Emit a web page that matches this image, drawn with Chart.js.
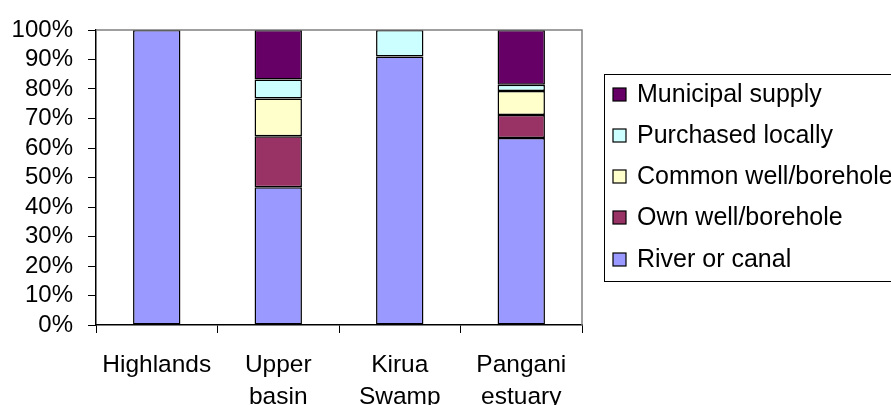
<!DOCTYPE html>
<html>
<head>
<meta charset="utf-8">
<script src="https://cdn.jsdelivr.net/npm/chart.js@4.4.1/dist/chart.umd.min.js"></script>
<style>
  html, body { margin: 0; padding: 0; background: #ffffff; }
  #wrap { width: 891px; height: 405px; position: relative; }
</style>
</head>
<body>
<div id="wrap"><canvas id="c"></canvas></div>
<script>
// ---- data ----
const categories = [["Highlands"], ["Upper", "basin"], ["Kirua", "Swamp"], ["Pangani", "estuary"]];
const riverOrCanal      = [100, 46.7, 91.0, 63.4];
const ownWell           = [0, 17.3, 0, 7.8];
const commonWell        = [0, 12.8, 0, 8.1];
const purchasedLocally  = [0, 6.4, 9.0, 2.1];
const municipalSupply   = [0, 16.8, 0, 18.6];
const yTicks = [0, 10, 20, 30, 40, 50, 60, 70, 80, 90, 100];

const FONT = "'Liberation Sans', Arial, sans-serif";

const datasets = [
  { label: "River or canal", data: riverOrCanal, backgroundColor: "#9999FF" },
  { label: "Own well/borehole", data: ownWell, backgroundColor: "#993366" },
  { label: "Common well/borehole", data: commonWell, backgroundColor: "#FFFFCC" },
  { label: "Purchased locally", data: purchasedLocally, backgroundColor: "#CCFFFF" },
  { label: "Municipal supply", data: municipalSupply, backgroundColor: "#660066" }
].map(d => Object.assign(d, {
  borderColor: "#000000",
  borderWidth: c => (c.raw ? 1.5 : 0),
  borderSkipped: false,
  categoryPercentage: 1.0,
  barPercentage: 0.39
}));

const frameAndLegend = {
  id: "frameAndLegend",
  afterDraw(chart) {
    const ctx = chart.ctx;
    const a = chart.chartArea;
    ctx.save();
    // grey plot-area frame (top and right)
    ctx.strokeStyle = "#808080";
    ctx.lineWidth = 1.5;
    ctx.beginPath();
    ctx.moveTo(a.left, a.top);
    ctx.lineTo(a.right, a.top);
    ctx.lineTo(a.right, a.bottom);
    ctx.stroke();

    // legend box
    const lx = 604, ly = 74, lw = 300, lh = 207;
    ctx.strokeStyle = "#000000";
    ctx.lineWidth = 1;
    ctx.strokeRect(lx + 0.5, ly + 0.5, lw, lh);
    const items = chart.data.datasets.slice().reverse();
    const rowY = [94, 135, 176, 217, 259];
    ctx.font = "25px " + FONT;
    ctx.textBaseline = "middle";
    ctx.textAlign = "left";
    items.forEach((ds, i) => {
      const y = rowY[i];
      ctx.fillStyle = ds.backgroundColor;
      ctx.fillRect(613, y - 6, 13, 13);
      ctx.strokeStyle = "#000000";
      ctx.lineWidth = 1.2;
      ctx.strokeRect(613, y - 6, 13, 13);
      ctx.fillStyle = "#000000";
      ctx.fillText(ds.label, 637, y + 1);
    });
    ctx.restore();
  }
};

new Chart(document.getElementById("c"), {
  type: "bar",
  data: { labels: categories, datasets: datasets },
  plugins: [frameAndLegend],
  options: {
    responsive: true,
    maintainAspectRatio: false,
    animation: false,
    layout: { padding: { top: 30, right: 309, left: 0, bottom: 0 } },
    plugins: { legend: { display: false }, tooltip: { enabled: false } },
    scales: {
      x: {
        stacked: true,
        offset: true,
        afterFit(scale) { scale.height = 80; },
        grid: {
          offset: true,
          drawOnChartArea: false,
          drawTicks: true,
          tickLength: 8,
          color: "#000000",
          lineWidth: 1
        },
        border: { color: "#000000", width: 1.5 },
        ticks: {
          color: "#000000",
          font: { family: FONT, size: 24.5, lineHeight: 1.3 },
          padding: 16,
          maxRotation: 0,
          autoSkip: false
        }
      },
      y: {
        stacked: true,
        min: 0,
        max: 100,
        afterFit(scale) { scale.width = 96; },
        afterBuildTicks(scale) { scale.ticks = yTicks.map(v => ({ value: v })); },
        grid: {
          drawOnChartArea: false,
          drawTicks: true,
          tickLength: 8,
          color: "#000000",
          lineWidth: 1
        },
        border: { color: "#000000", width: 1.5 },
        ticks: {
          color: "#000000",
          font: { family: FONT, size: 24 },
          padding: 15,
          autoSkip: false,
          callback: v => v + "%"
        }
      }
    }
  }
});
</script>
</body>
</html>
